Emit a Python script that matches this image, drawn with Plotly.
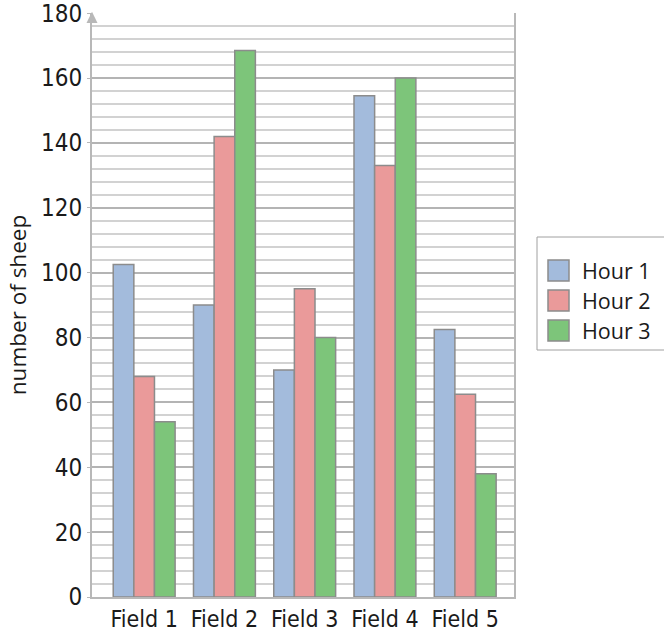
import plotly.graph_objects as go

fields = ["Field 1", "Field 2", "Field 3", "Field 4", "Field 5"]
hour1 = [102.5, 90, 70, 154.5, 82.5]
hour2 = [68, 142, 95, 133, 62.5]
hour3 = [54, 168.5, 80, 160, 38]
y_ticks = [0, 20, 40, 60, 80, 100, 120, 140, 160, 180]

series = [
    ("Hour 1", hour1, "#A3BBDC"),
    ("Hour 2", hour2, "#EA9A9A"),
    ("Hour 3", hour3, "#7DC57A"),
]

NARROW = "Liberation Sans Narrow, DejaVu Sans Condensed, Lato"
TEXT = "Open Sans"
OUTLINE = "#8C8C8C"

fig = go.Figure()
for name, vals, color in series:
    fig.add_trace(go.Bar(
        name=name, x=fields, y=vals,
        marker=dict(color=color, line=dict(color=OUTLINE, width=1.5)),
    ))

fig.update_layout(
    width=664, height=636,
    margin=dict(l=92, r=150, t=13, b=39, autoexpand=False),
    paper_bgcolor="white", plot_bgcolor="white",
    barmode="group", bargap=0.229, bargroupgap=0,
    font=dict(family=TEXT, size=22, color="#1a1a1a"),
    showlegend=False,
)

fig.update_xaxes(
    range=[-0.65, 4.608],
    showline=True, linecolor="#B8B8B8", linewidth=2,
    ticks="", tickangle=0, automargin=False,
    tickfont=dict(family=NARROW, size=23),
)
fig.update_yaxes(
    range=[0, 180.05], tickmode="array", tickvals=y_ticks,
    tickfont=dict(family=NARROW, size=24), automargin=False,
    ticklabeloverflow="allow",
    showline=True, linecolor="#B8B8B8", linewidth=2, mirror=True,
    gridcolor="#B4B4B4", gridwidth=1.5,
    ticks="outside", ticklen=3, tickcolor="#B8B8B8",
    minor=dict(dtick=4, tick0=0, showgrid=True, gridcolor="#D2D2D2", gridwidth=1.5),
    title=dict(text="number of sheep", font=dict(family=TEXT, size=22.5), standoff=8),
    zeroline=False,
)

# arrow head at the top of the value axis
fig.add_shape(
    type="path", xref="paper", yref="paper",
    path="M -0.013 0.983 L 0.013 0.983 L 0 1.002 Z",
    fillcolor="#B8B8B8", line=dict(width=0),
)

# legend: framed box with square swatches
px_w, px_h = 422.0, 584.0  # plot area size in pixels
def px_x(x):
    return (x - 92) / px_w
def px_y(y):
    return (597 - y) / px_h

fig.add_shape(
    type="rect", xref="paper", yref="paper",
    x0=px_x(537), x1=px_x(670), y0=px_y(350), y1=px_y(237),
    line=dict(color="#A0A0A0", width=1), fillcolor="rgba(0,0,0,0)",
)
for i, (name, _, color) in enumerate(series):
    cy = 270.5 + 30 * i
    fig.add_shape(
        type="rect", xref="paper", yref="paper",
        x0=px_x(548), x1=px_x(569), y0=px_y(cy + 10.5), y1=px_y(cy - 10.5),
        line=dict(color=OUTLINE, width=1.5), fillcolor=color,
    )
    fig.add_annotation(
        xref="paper", yref="paper", x=px_x(580), y=px_y(cy),
        xanchor="left", yanchor="middle", showarrow=False,
        text=name, font=dict(family=TEXT, size=21.5, color="#1a1a1a"),
    )

fig.write_html("out.html")
